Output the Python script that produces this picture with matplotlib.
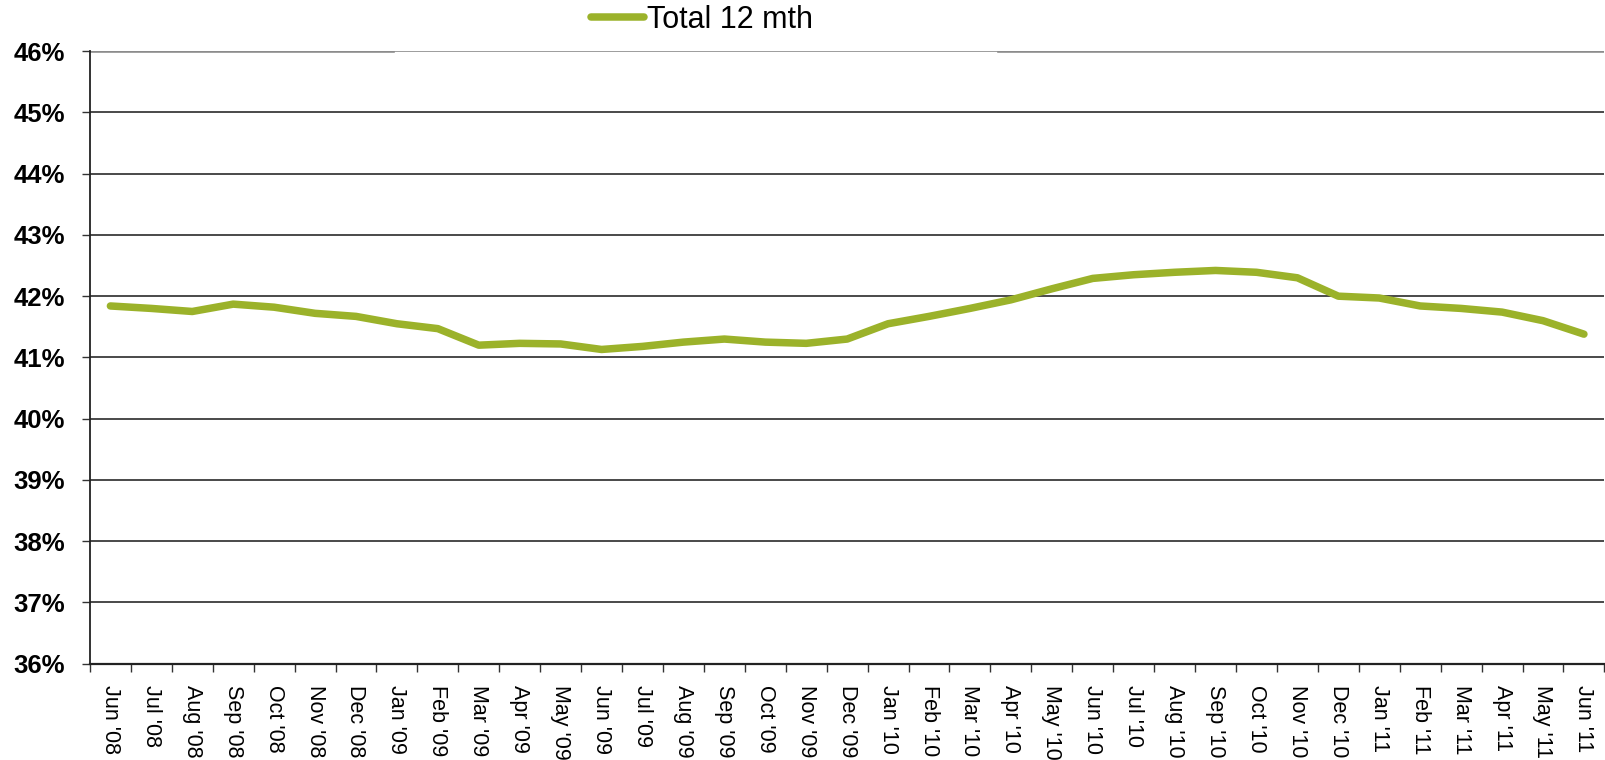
import matplotlib
matplotlib.use("Agg")
import matplotlib.pyplot as plt
from matplotlib.ticker import FixedLocator

plt.rcParams['font.family'] = ['Liberation Sans', 'DejaVu Sans']

# monthly labels, Jun '08 .. Jun '11
months = ["Jun '08", "Jul '08", "Aug '08", "Sep '08", "Oct '08", "Nov '08", "Dec '08",
          "Jan '09", "Feb '09", "Mar '09", "Apr '09", "May '09", "Jun '09", "Jul '09",
          "Aug '09", "Sep '09", "Oct '09", "Nov '09", "Dec '09",
          "Jan '10", "Feb '10", "Mar '10", "Apr '10", "May '10", "Jun '10", "Jul '10",
          "Aug '10", "Sep '10", "Oct '10", "Nov '10", "Dec '10",
          "Jan '11", "Feb '11", "Mar '11", "Apr '11", "May '11", "Jun '11"]

total_12mth = [41.84, 41.80, 41.75, 41.87, 41.82, 41.72, 41.67,
               41.55, 41.47, 41.20, 41.23, 41.22, 41.13, 41.18,
               41.25, 41.30, 41.25, 41.23, 41.30,
               41.55, 41.67, 41.80, 41.94, 42.12, 42.29, 42.35,
               42.39, 42.42, 42.39, 42.30, 42.00,
               41.97, 41.84, 41.80, 41.74, 41.60, 41.38]

yticks = list(range(36, 47))

fig = plt.figure(figsize=(16.06, 7.6), dpi=100)
ax = fig.add_axes([0.056, 0.1267, 0.943, 0.806])

x = list(range(len(months)))
line, = ax.plot(x, total_12mth, color='#9BB22A', lw=5.4,
                solid_capstyle='round', solid_joinstyle='round',
                label='Total 12 mth', zorder=3)

ax.set_xlim(-0.5, len(months) - 0.5)
ax.set_ylim(36, 46)

# horizontal grid
for v in yticks[1:-1]:
    ax.axhline(v, color='#2a2a2a', lw=1.2, zorder=1)
ax.axhline(46, color='#8c8c8c', lw=1.2, zorder=1)
ax.axhline(46, xmin=0, xmax=0.2, color='#8c8c8c', lw=2.6, zorder=1)
ax.axhline(46, xmin=0.6, xmax=1, color='#8c8c8c', lw=2.6, zorder=1)

for s in ['top', 'right']:
    ax.spines[s].set_visible(False)
ax.spines['left'].set_color('#222222')
ax.spines['left'].set_linewidth(1.3)
ax.spines['bottom'].set_color('#222222')
ax.spines['bottom'].set_linewidth(1.6)

ax.set_yticks(yticks)
ax.set_yticklabels([f"{v}%" for v in yticks], fontsize=18.5, fontweight='bold')
ax.tick_params(axis='y', length=6, width=1, color='#333333', pad=12)

# category boundaries carry the ticks, labels sit in between
ax.xaxis.set_major_locator(FixedLocator([i - 0.5 for i in range(len(months) + 1)]))
ax.xaxis.set_major_formatter(plt.NullFormatter())
ax.set_xticks(x, minor=True)
ax.set_xticklabels(months, minor=True, rotation=-90, fontsize=15.5,
                   ha='center', va='top')
ax.tick_params(axis='x', which='major', length=6, width=1, color='#333333')
ax.tick_params(axis='x', which='minor', length=0, pad=15)

fig.legend(handles=[line], loc='center', bbox_to_anchor=(0.437, 0.974),
           frameon=False, fontsize=22, handlelength=1.75, handletextpad=0.1,
           borderaxespad=0, borderpad=0)

fig.savefig('out.png', dpi=100)
